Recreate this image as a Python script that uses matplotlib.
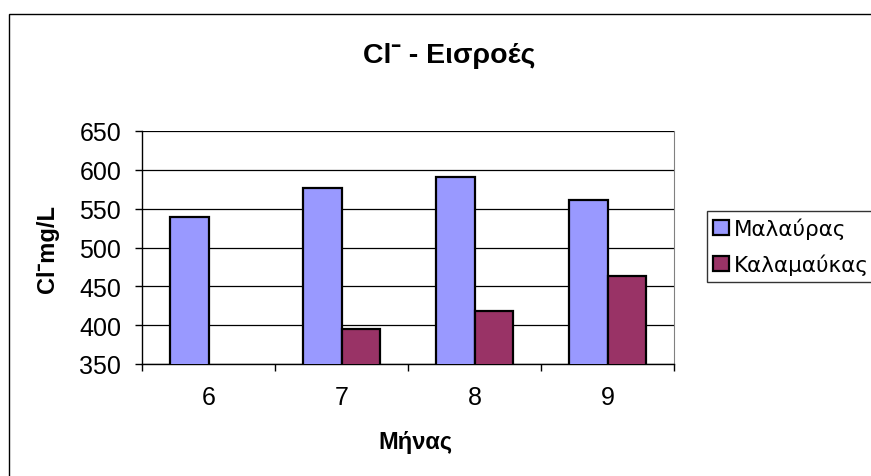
import numpy as np
import matplotlib
matplotlib.use("Agg")
import matplotlib.pyplot as plt
from matplotlib.patches import Rectangle

plt.rcParams['font.family'] = ['Liberation Sans', 'DejaVu Sans']

months = ['6', '7', '8', '9']
malavras = [539, 576, 591, 561]
kalamafkas = [np.nan, 395, 418, 463]
series_names = ['Μαλαύρας', 'Καλαμαύκας']
y_ticks = [350, 400, 450, 500, 550, 600, 650]

W, H = 871, 477
fig = plt.figure(figsize=(W / 100, H / 100), dpi=100)

# outer chart frame (runs off the right and bottom edges)
fig.patches.append(Rectangle((9 / W, -0.1), 1.0, (H - 15) / H + 0.1,
                             transform=fig.transFigure, fill=False,
                             edgecolor='black', linewidth=1.0))

ax = fig.add_axes([142 / W, 112 / H, 532 / W, 233 / H])
x = np.arange(len(months))
bw = 0.29
ax.bar(x - bw / 2, malavras, bw, color='#9999FF',
       edgecolor='black', linewidth=1.6, label=series_names[0], zorder=3)
ax.bar(x + bw / 2, kalamafkas, bw, color='#993366',
       edgecolor='black', linewidth=1.6, label=series_names[1], zorder=3)

ax.set_xlim(-0.5, len(months) - 0.5)
ax.set_ylim(y_ticks[0], y_ticks[-1])
ax.set_yticks(y_ticks)
ax.tick_params(axis='y', labelsize=18, length=5, width=1, direction='out', pad=10)
ax.set_xticks(x)
ax.set_xticklabels(months)
ax.tick_params(axis='x', which='major', length=0, labelsize=18, pad=15)
ax.set_xticks(np.arange(-0.5, len(months)), minor=True)
ax.tick_params(axis='x', which='minor', length=5, width=1, direction='out')

ax.grid(axis='y', color='black', linewidth=0.9, zorder=0)
ax.spines['top'].set_visible(False)
ax.spines['right'].set_color('#808080')
ax.spines['left'].set_linewidth(1)
ax.spines['bottom'].set_linewidth(1)

fig.text(449 / W, (H - 56) / H, 'Cl\u02c9 - Εισροές', ha='center', va='center',
         fontsize=20.5, fontweight='bold')
fig.text(48 / W, (H - 249) / H, 'Cl\u02c9mg/L', ha='center', va='center',
         rotation=90, fontsize=17, fontweight='bold')
fig.text(415 / W, (H - 443) / H, 'Μήνας', ha='center', va='center',
         fontsize=17, fontweight='bold')

leg = fig.legend(loc='upper left', bbox_to_anchor=(707 / W, (H - 212) / H),
                 prop={'family': 'DejaVu Sans', 'size': 15.5},
                 frameon=True, fancybox=False, edgecolor='black',
                 handlelength=0.7, handleheight=0.7, handletextpad=0.25,
                 borderaxespad=0, borderpad=0.3, labelspacing=0.68)
leg.get_frame().set_linewidth(1)

fig.savefig('out.png', dpi=100)
